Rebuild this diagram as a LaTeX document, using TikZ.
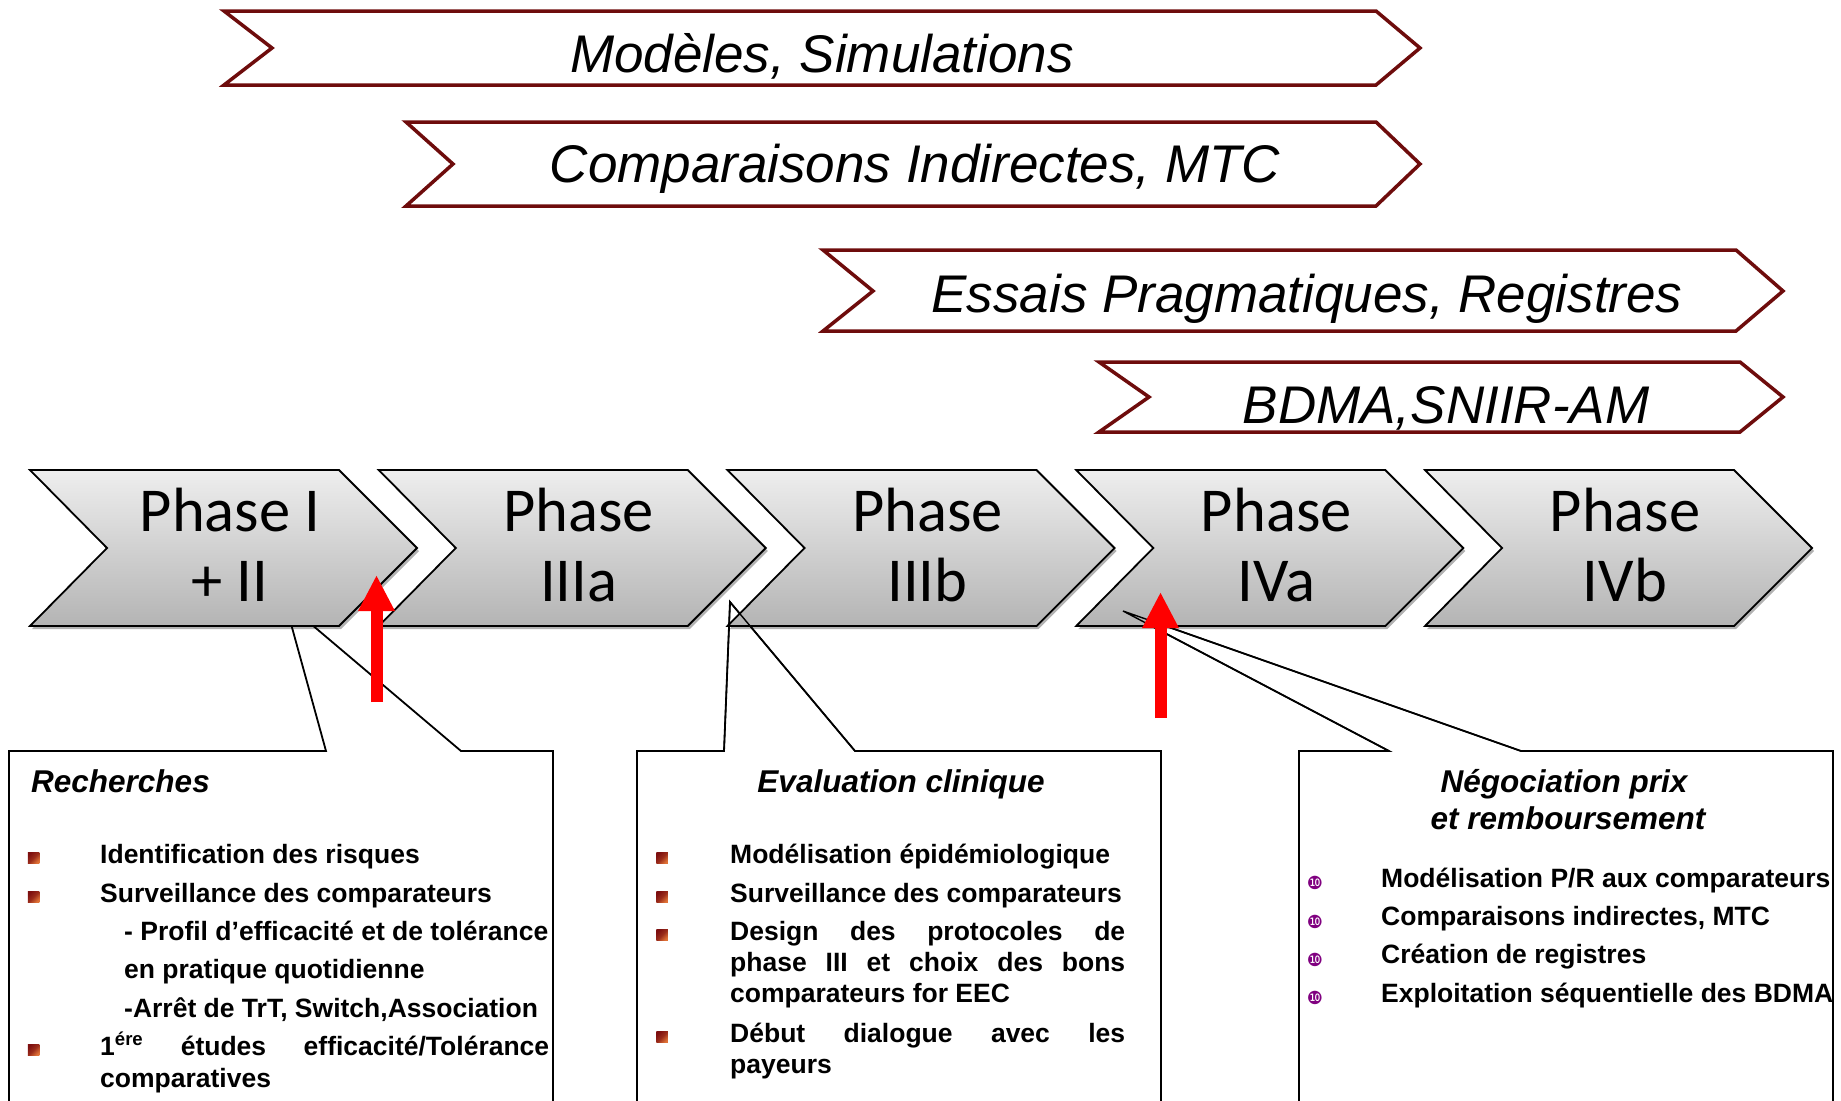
\documentclass[tikz,border=0pt]{standalone}
\usepackage{fontspec}
\setmainfont{Liberation Sans}
\newfontfamily\carlito{Carlito}
\newfontfamily\dejavu{DejaVu Sans}
\usetikzlibrary{arrows.meta,shadows}
\definecolor{bannerred}{RGB}{110,12,12}
\definecolor{phtop}{RGB}{238,238,238}
\definecolor{phbot}{RGB}{180,180,180}
\definecolor{bulA}{RGB}{125,15,15}
\definecolor{bulB}{RGB}{225,115,55}
\definecolor{bulpurple}{RGB}{128,0,128}
\definecolor{arrred}{RGB}{255,0,0}
\begin{document}
\begin{tikzpicture}[x=1pt,y=-1pt,
  banner/.style={draw=bannerred,line width=3.5pt,fill=white,line join=miter},
  phasebox/.style={draw=black,line width=1.8pt,top color=phtop,bottom color=phbot,
    drop shadow={shadow xshift=2pt,shadow yshift=-3pt,opacity=0.3,fill=black}},
  bannertxt/.style={anchor=base,inner sep=0pt,font=\fontsize{53}{60}\selectfont\itshape},
  phasetxt/.style={anchor=base,inner sep=0pt,font=\carlito\fontsize{62.5}{70}\selectfont},
  callout/.style={draw=black,line width=1.8pt,fill=white,line join=miter},
  pointer/.style={draw=black,line width=1.4pt},
  headtxt/.style={anchor=base,inner sep=0pt,font=\fontsize{31.5}{38}\selectfont\bfseries\itshape},
  itemtxt/.style={anchor=base west,inner sep=0pt,font=\fontsize{26.5}{32}\selectfont\bfseries},
  sqbullet/.style={minimum size=11.5pt,inner sep=0pt,top color=bulA,bottom color=bulB,middle color=bulA!70!bulB,shading angle=45},
  pbullet/.style={inner sep=0pt,text=bulpurple,font=\dejavu\fontsize{18}{18}\selectfont},
  redarrow/.style={draw=arrred,line width=12pt,-{Triangle[width=34pt,length=36pt]}}
]
\useasboundingbox (0,0) rectangle (1841,1100);
\clip (0,0) rectangle (1841,1100);

% banners
\path[banner] (224,11) -- (1376,11) -- (1420,48) -- (1376,85) -- (224,85) -- (272,48) -- cycle;
\path[banner] (406,122) -- (1376,122) -- (1420,164) -- (1376,206) -- (406,206) -- (453,164) -- cycle;
\path[banner] (823,250) -- (1736,250) -- (1783,291) -- (1736,331) -- (823,331) -- (873,291) -- cycle;
\path[banner] (1099,362) -- (1740,362) -- (1783,397) -- (1740,432) -- (1099,432) -- (1149,397) -- cycle;
\node[bannertxt] (m1) at (822,72) {Modèles, Simulations};
\node[bannertxt] (m2) at (915,182) {Comparaisons Indirectes, MTC};
\node[bannertxt] (m3) at (1307,312) {Essais Pragmatiques, Registres};
\node[bannertxt] (m4) at (1446,423) {BDMA,SNIIR-AM};

% callout boxes (behind the phases)
\path[callout] (9,751) -- (326,751) -- (285,602) -- (461,751) -- (553,751) -- (553,1115) -- (9,1115) -- cycle;
\path[callout] (637,751) -- (724,751) -- (730,602) -- (855,751) -- (1161,751) -- (1161,1115) -- (637,1115) -- cycle;
\path[callout] (1299,751) -- (1389,751) -- (1123,611) -- (1521,751) -- (1833,751) -- (1833,1115) -- (1299,1115) -- cycle;

% phases
\foreach \i/\la/\lb in {0/Phase I/+ II,1/Phase/IIIa,2/Phase/IIIb,3/Phase/IVa,4/Phase/IVb}{
  \pgfmathsetmacro\L{30+348.75*\i}
  \path[phasebox] (\L,470) -- (\L+309,470) -- (\L+387,548) -- (\L+309,626) -- (\L,626) -- (\L+77,548) -- cycle;
  \node[phasetxt] (ph\i a) at (\L+200,531) {\la};
  \node[phasetxt] (ph\i b) at (\L+200,601) {\lb};
}

% pointers drawn over the phases
\draw[pointer] (724,751) -- (730,602) -- (855,751);
\draw[pointer] (1389,751) -- (1123,611) -- (1521,751);

% red arrows
\coordinate (a1s) at (376.5,702);
\coordinate (a1e) at (376.5,575);
\coordinate (a2s) at (1160.5,718);
\coordinate (a2e) at (1160.5,592);
\draw[redarrow] (a1s) -- (a1e);
\draw[redarrow] (a2s) -- (a2e);

% box 1
\node[headtxt,anchor=base west] (h1) at (31,792) {Recherches};
\node[sqbullet] (b1a) at (33.5,858) {};
\node[itemtxt] (t1a) at (100,863) {Identification des risques};
\node[sqbullet] (b1b) at (33.5,897) {};
\node[itemtxt] (t1b) at (100,902) {Surveillance des comparateurs};
\node[itemtxt] (t1c) at (124,940) {- Profil d’efficacité et de tolérance};
\node[itemtxt] (t1d) at (124,978) {en pratique quotidienne};
\node[itemtxt] (t1e) at (124,1017) {-Arrêt de TrT, Switch,Association};
\node[sqbullet] (b1f) at (33.5,1050) {};
\node[itemtxt] (t1f) at (100,1055) {\makebox[449pt][s]{1\textsuperscript{ére} études efficacité/Tolérance}};
\node[itemtxt] (t1g) at (100,1087) {comparatives};

% box 2
\node[headtxt] (h2) at (901,792) {Evaluation clinique};
\node[sqbullet] (b2a) at (662,858) {};
\node[itemtxt] (t2a) at (730,863) {Modélisation épidémiologique};
\node[sqbullet] (b2b) at (662,897) {};
\node[itemtxt] (t2b) at (730,902) {Surveillance des comparateurs};
\node[sqbullet] (b2c) at (662,935) {};
\node[itemtxt] (t2c) at (730,940) {\makebox[395pt][s]{Design des protocoles de}};
\node[itemtxt] (t2d) at (730,971) {\makebox[395pt][s]{phase III et choix des bons}};
\node[itemtxt] (t2e) at (730,1002) {comparateurs for EEC};
\node[sqbullet] (b2f) at (662,1037) {};
\node[itemtxt] (t2f) at (730,1042) {\makebox[395pt][s]{Début dialogue avec les}};
\node[itemtxt] (t2g) at (730,1073) {payeurs};

% box 3
\node[headtxt] (h3a) at (1564,792) {Négociation prix};
\node[headtxt] (h3b) at (1568,829) {et remboursement};
\node[pbullet] (b3a) at (1315,883) {❿};
\node[itemtxt] (t3a) at (1381,887) {Modélisation P/R aux comparateurs};
\node[pbullet] (b3b) at (1315,922) {❿};
\node[itemtxt] (t3b) at (1381,925) {Comparaisons indirectes, MTC};
\node[pbullet] (b3c) at (1315,960) {❿};
\node[itemtxt] (t3c) at (1381,963) {Création de registres};
\node[pbullet] (b3d) at (1315,998) {❿};
\node[itemtxt] (t3d) at (1381,1002) {Exploitation séquentielle des BDMA};
\end{tikzpicture}
\end{document}
